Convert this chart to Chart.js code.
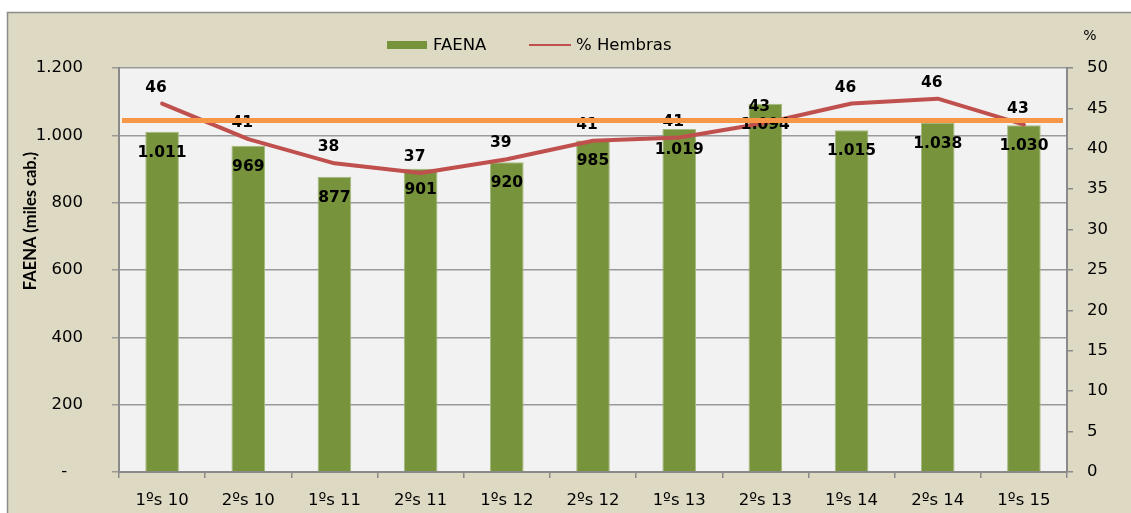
<!DOCTYPE html>
<html>
<head>
<meta charset="utf-8">
<script src="https://cdn.jsdelivr.net/npm/chart.js@4/dist/chart.umd.min.js"></script>
<style>
html,body{margin:0;padding:0;background:#fff;}
#wrap{width:1131px;height:513px;position:relative;}
</style>
</head>
<body>
<div id="wrap"><canvas id="c" width="1131" height="513"></canvas></div>
<script>
const categories = ['1ºs 10','2ºs 10','1ºs 11','2ºs 11','1ºs 12','2ºs 12','1ºs 13','2ºs 13','1ºs 14','2ºs 14','1ºs 15'];
const faena = [1011, 969, 877, 901, 920, 985, 1019, 1094, 1015, 1038, 1030];
const pctHembras = [45.6, 41.2, 38.2, 37.0, 38.7, 41.0, 41.4, 43.2, 45.6, 46.2, 43.0];
const referenceLine = 43.5;
const leftTicks = [0, 200, 400, 600, 800, 1000, 1200];
const rightTicks = [0, 5, 10, 15, 20, 25, 30, 35, 40, 45, 50];

const GREEN = '#77933c', RED = '#c0504d', ORANGE = '#f79646';
const BEIGE = '#ddd9c3', PLOT = '#f2f2f2', GRID = '#9a9a9a', AXIS = '#8a8a8a';
const TICKFONT = {family: 'DejaVu Sans', size: 16.5};

function fmtThousands(v){
  if (v === 0) return '-   ';
  return String(v).replace(/\B(?=(\d{3})+(?!\d))/g, '.');
}

const bgPlugin = {
  id: 'bg',
  beforeDraw(chart){
    const {ctx, chartArea: a} = chart;
    ctx.save();
    ctx.fillStyle = '#ffffff';
    ctx.fillRect(0,0,chart.width,chart.height);
    ctx.fillStyle = BEIGE;
    ctx.fillRect(7,12,chart.width-7,chart.height-12);
    ctx.strokeStyle = '#8c8c8c';
    ctx.lineWidth = 1.5;
    ctx.beginPath();
    ctx.moveTo(7.5, chart.height); ctx.lineTo(7.5, 12.5); ctx.lineTo(chart.width, 12.5);
    ctx.stroke();
    ctx.fillStyle = PLOT;
    ctx.fillRect(a.left, a.top, a.right-a.left, a.bottom-a.top);
    ctx.restore();
  }
};

const labelsPlugin = {
  id: 'valueLabels',
  afterDatasetsDraw(chart){
    const ctx = chart.ctx;
    ctx.save();
    ctx.font = 'bold 15.5px "DejaVu Sans"';
    ctx.fillStyle = '#000';
    ctx.textAlign = 'center';
    ctx.textBaseline = 'middle';
    const barMeta = chart.getDatasetMeta(0);
    barMeta.data.forEach((el,i)=>{
      ctx.fillText(fmtThousands(faena[i]), el.x, el.y + 21);
    });
    const lineMeta = chart.getDatasetMeta(1);
    lineMeta.data.forEach((el,i)=>{
      ctx.fillText(String(Math.round(pctHembras[i])), el.x - 6, el.y - 16);
    });
    ctx.restore();
  },
  afterDraw(chart){
    const ctx = chart.ctx, a = chart.chartArea;
    const y = chart.scales.y1.getPixelForValue(referenceLine);
    ctx.save();
    ctx.strokeStyle = ORANGE;
    ctx.lineWidth = 5;
    ctx.beginPath();
    ctx.moveTo(a.left + 3, y);
    ctx.lineTo(a.right - 4, y);
    ctx.stroke();

    // legend
    ctx.fillStyle = GREEN;
    ctx.fillRect(387, 41, 40, 8);
    ctx.strokeStyle = RED;
    ctx.lineWidth = 2;
    ctx.beginPath();
    ctx.moveTo(529, 45); ctx.lineTo(571, 45);
    ctx.stroke();
    ctx.fillStyle = '#000';
    ctx.font = '16.5px "DejaVu Sans"';
    ctx.textAlign = 'left';
    ctx.textBaseline = 'middle';
    ctx.fillText('FAENA', 433, 46);
    ctx.fillText('% Hembras', 576, 46);

    // right axis unit
    ctx.font = '14px "DejaVu Sans"';
    ctx.textAlign = 'center';
    ctx.fillText('%', 1090, 36);

    // left axis title
    ctx.font = 'bold 16.5px Lato';
    ctx.translate(31, 221);
    ctx.rotate(-Math.PI/2);
    ctx.textAlign = 'center';
    ctx.textBaseline = 'middle';
    ctx.fillText('FAENA (miles cab.)', 0, 0);
    ctx.restore();
  }
};

new Chart(document.getElementById('c'), {
  data: {
    labels: categories,
    datasets: [
      {
        type: 'bar',
        label: 'FAENA',
        data: faena,
        yAxisID: 'y',
        backgroundColor: GREEN,
        borderColor: '#a3b97c',
        borderWidth: 1,
        barPercentage: 0.39,
        categoryPercentage: 1,
        order: 2
      },
      {
        type: 'line',
        label: '% Hembras',
        data: pctHembras,
        yAxisID: 'y1',
        borderColor: RED,
        backgroundColor: RED,
        borderWidth: 4,
        pointRadius: 0,
        tension: 0,
        borderCapStyle: 'round',
        borderJoinStyle: 'round',
        order: 1
      }
    ]
  },
  options: {
    responsive: false,
    animation: false,
    devicePixelRatio: 1,
    layout: {padding: {top: 68, left: 0, right: 0, bottom: 0}},
    plugins: {legend: {display: false}, tooltip: {enabled: false}},
    scales: {
      x: {
        offset: true,
        grid: {offset: true, drawOnChartArea: false, drawTicks: true, tickLength: 6, color: AXIS, lineWidth: 1.5},
        border: {display: true, color: AXIS, width: 2},
        ticks: {color: '#000', font: TICKFONT, padding: 13, maxRotation: 0, autoSkip: false},
        afterFit(s){ s.height = 41; }
      },
      y: {
        position: 'left',
        min: 0, max: 1200,
        afterBuildTicks(s){ s.ticks = leftTicks.map(v=>({value:v})); },
        grid: {color: GRID, lineWidth: 1.5, drawTicks: true, tickLength: 7},
        border: {display: true, color: AXIS, width: 2},
        ticks: {color: '#000', font: TICKFONT, padding: 29, callback: v => fmtThousands(v)},
        afterFit(s){ s.width = 119; }
      },
      y1: {
        position: 'right',
        min: 0, max: 50,
        afterBuildTicks(s){ s.ticks = rightTicks.map(v=>({value:v})); },
        grid: {drawOnChartArea: false, drawTicks: true, tickLength: 6, color: AXIS, lineWidth: 1.5},
        border: {display: true, color: AXIS, width: 2},
        ticks: {color: '#000', font: TICKFONT, padding: 14},
        afterFit(s){ s.width = 64; }
      }
    }
  },
  plugins: [bgPlugin, labelsPlugin]
});
</script>
</body>
</html>
